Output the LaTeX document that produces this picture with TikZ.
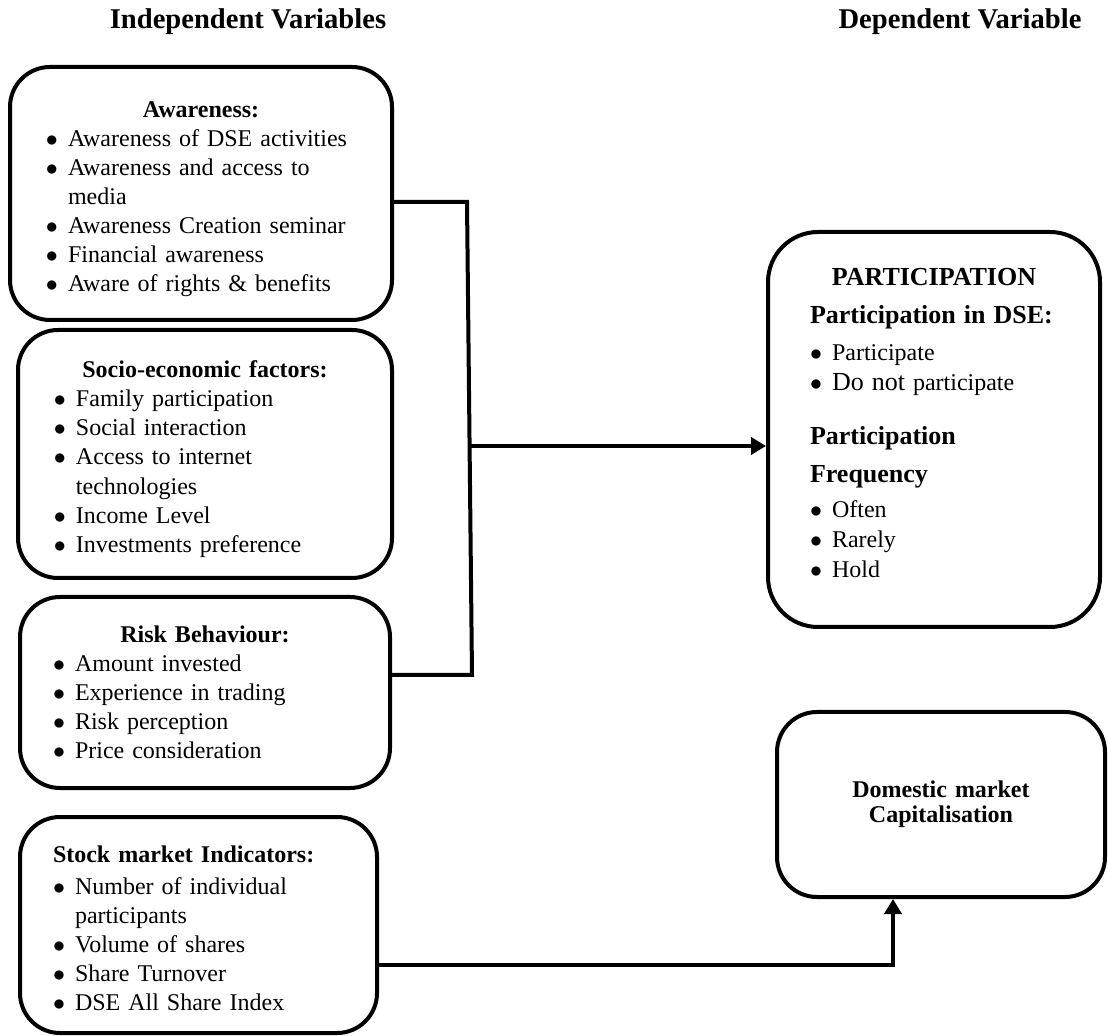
\documentclass[tikz,border=0pt]{standalone}
\usepackage{fontspec}
\setmainfont{Liberation Serif}
\usepackage{tikz}
\usetikzlibrary{arrows.meta}

\newcommand{\bitem}[1]{\makebox[11pt][l]{$\bullet$}#1}
\newcommand{\bcont}[1]{\hspace*{11pt}#1}
\newcommand{\bhead}[1]{\hspace*{\fill}\textbf{#1}\hspace*{\fill}\null}
\newcommand{\padtop}[1]{\rule{0pt}{#1}}
\newcommand{\padbot}[1]{\rule[-#1]{0pt}{1pt}}

\begin{document}
\begin{tikzpicture}[x=0.5pt, y=-0.5pt,
  factor/.style={draw, line width=2pt, rounded corners=20pt, align=left, inner ysep=0pt,
    font=\fontsize{12}{14.5}\selectfont},
  outcome/.style={factor, rounded corners=25pt, font=\fontsize{12}{15}\selectfont},
  heading/.style={font=\fontsize{14.3}{17}\selectfont\bfseries},
  link/.style={line width=2pt},
  arrow/.style={line width=2pt, -{Triangle[length=7.5pt, width=8.5pt]}}
]
  \useasboundingbox (0,0) rectangle (1108,1036);

  \node[heading] (indep) at (248,22) {Independent Variables};
  \node[heading] (dep)   at (960,22) {Dependent Variable};

  \node[factor, minimum width=191pt, minimum height=126.5pt, text width=155pt, inner xsep=18pt]
    (aware) at (201,193.5) {\padtop{13.5pt}\bhead{Awareness:}\\
      \bitem{Awareness of DSE activities}\\
      \bitem{Awareness and access to}\\
      \bcont{media}\\
      \bitem{Awareness Creation seminar}\\
      \bitem{Financial awareness}\\
      \bitem{Aware of rights \& benefits}};
  \node[factor, minimum width=187pt, minimum height=124pt, text width=151pt, inner xsep=18pt,
    font=\fontsize{12}{14.6}\selectfont]
    (socio) at (205,454) {\padtop{13.5pt}\bhead{Socio-economic factors:}\\
      \bitem{Family participation}\\
      \bitem{Social interaction}\\
      \bitem{Access to internet}\\
      \bcont{technologies}\\
      \bitem{Income Level}\\
      \bitem{Investments preference}};
  \node[factor, minimum width=185pt, minimum height=95.5pt, text width=152pt, inner xsep=16.5pt]
    (risk) at (205,692.5) {\bhead{Risk Behaviour:}\\
      \bitem{Amount invested}\\
      \bitem{Experience in trading}\\
      \bitem{Risk perception}\\
      \bitem{Price consideration}};
  \node[factor, minimum width=178.5pt, minimum height=108pt, text width=145.5pt, inner xsep=16.5pt]
    (stock) at (198.5,925) {\padtop{11.5pt}\textbf{Stock market Indicators:}\\[1.6pt]
      \bitem{Number of individual}\\
      \bcont{participants}\\
      \bitem{Volume of shares}\\
      \bitem{Share Turnover}\\
      \bitem{DSE All Share Index}};

  \node[outcome, minimum width=166pt, minimum height=197.5pt, text width=124pt, inner xsep=21pt]
    (part) at (934,429.5) {\fontsize{13}{15}\selectfont\bhead{PARTICIPATION}\\[4pt]
      \fontsize{13}{15}\selectfont\textbf{Participation in DSE:}\\[3.5pt]
      \fontsize{12}{15}\selectfont\bitem{Participate}\\
      \bitem{\fontsize{13}{15}\selectfont Do not \fontsize{12}{15}\selectfont participate}\\[12pt]
      \fontsize{13}{15}\selectfont\textbf{Participation}\\[4pt]
      \textbf{Frequency}\\[2.5pt]
      \fontsize{12}{15}\selectfont\bitem{Often}\\
      \bitem{Rarely}\\
      \bitem{Hold}\padbot{6.5pt}};
  \node[outcome, rounded corners=20pt, minimum width=164pt, minimum height=92.5pt, text width=140pt,
    align=center, font=\fontsize{12}{12.5}\selectfont\bfseries]
    (cap) at (941,804.5) {Domestic market\\Capitalisation};

  % Links into participation
  \coordinate (jt) at (467,202);
  \coordinate (jb) at (472,675);
  \coordinate (jm) at (470,446);
  \draw[link] (aware.east |- jt) -- (jt) -- (jb) -- (risk.east |- jb);
  \draw[arrow] (jm) -- (part.west |- jm);

  \coordinate (sk) at (893,965);
  \draw[arrow] (stock.east |- sk) -- (sk) -- (sk |- cap.south);
\end{tikzpicture}
\end{document}
